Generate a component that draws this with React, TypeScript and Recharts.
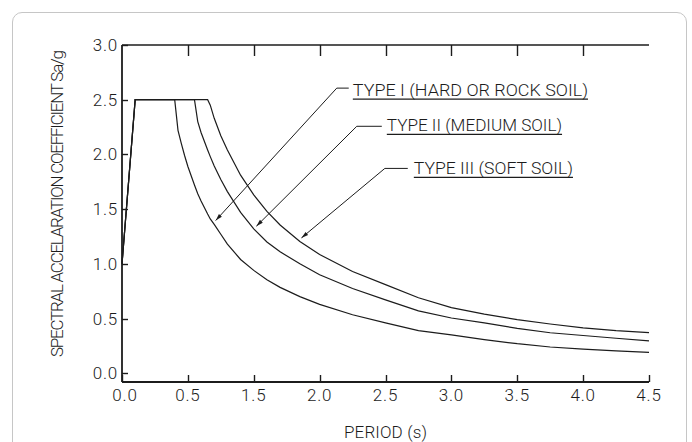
import { LineChart, Line, XAxis, YAxis, ReferenceLine } from "recharts";

// period grid (s) and Sa/g
const periods = [0, 0.1, 0.4, 0.425, 0.45, 0.475, 0.5, 0.55, 0.575, 0.6, 0.65, 0.67, 0.7, 0.75, 0.8, 0.9, 1.0, 1.1, 1.2, 1.35, 1.5, 1.75, 2.0, 2.25, 2.5, 2.75, 3.0, 3.25, 3.5, 3.75, 4.0];
const typeI = [1.0, 2.5, 2.5, 2.22, 2.1, 1.99, 1.89, 1.72, 1.64, 1.575, 1.455, 1.41, 1.36, 1.27, 1.18, 1.04, 0.94, 0.855, 0.785, 0.7, 0.63, 0.535, 0.46, 0.39, 0.35, 0.307, 0.27, 0.24, 0.22, 0.205, 0.19];
const typeII = [1.0, 2.5, 2.5, 2.5, 2.5, 2.5, 2.5, 2.5, 2.3, 2.2, 2.04, 1.98, 1.895, 1.77, 1.66, 1.47, 1.32, 1.2, 1.11, 1.0, 0.9, 0.775, 0.67, 0.57, 0.505, 0.46, 0.41, 0.37, 0.345, 0.32, 0.296];
const typeIII = [1.0, 2.5, 2.5, 2.5, 2.5, 2.5, 2.5, 2.5, 2.5, 2.5, 2.5, 2.45, 2.33, 2.17, 2.04, 1.81, 1.63, 1.48, 1.355, 1.205, 1.085, 0.93, 0.81, 0.69, 0.6, 0.54, 0.49, 0.45, 0.415, 0.39, 0.372];

const xTicks = [0, 0.5, 1.0, 1.5, 2.0, 2.5, 3.0, 3.5, 4.0];
// labels as printed on the drawing (1.0 is skipped there)
const xTickLabels = ["0.0", "0.5", "1.5", "2.0", "2.5", "3.0", "3.5", "4.0", "4.5"];
const yTicks = [0, 0.5, 1.0, 1.5, 2.0, 2.5, 3.0];
const yTickLabels = ["0.0", "0.5", "1.0", "1.5", "2.0", "2.5", "3.0"];

const callouts = [
  { text: "TYPE I (HARD OR ROCK SOIL)", tip: [0.711, 1.396], elbow: [1.63, 2.606], end: 1.721, lineY: 2.505, from: 1.752, to: 3.537 },
  { text: "TYPE II (MEDIUM SOIL)", tip: [1.02, 1.344], elbow: [1.782, 2.257], end: 1.972, lineY: 2.184, from: 2.01, to: 3.34 },
  { text: "TYPE III (SOFT SOIL)", tip: [1.362, 1.237], elbow: [1.995, 1.872], end: 2.169, lineY: 1.79, from: 2.215, to: 3.423 },
];

const data = periods.map((t, i) => ({ t, typeI: typeI[i], typeII: typeII[i], typeIII: typeIII[i] }));

const INK = "#1c1c1c";
const FONT = "Roboto, 'Liberation Sans', sans-serif";
const WEIGHT = 300;
const X_DOMAIN = [0, 4];
const Y_DOMAIN = [-0.08, 3];

const snap = (v: number) => Math.round(v) + 0.5;

const BottomTick = ({ x, y, payload }: any) => {
  const i = xTicks.indexOf(payload.value);
  const sx = snap(x);
  return (
    <g>
      <line x1={sx} x2={sx} y1={y} y2={y - 7} stroke={INK} strokeWidth={1.4} />
      <text x={i === 0 ? x + 3 : x} y={y + 19} textAnchor="middle" fontFamily={FONT} fontWeight={WEIGHT} fontSize={17} letterSpacing={0.8} fill={INK}>
        {xTickLabels[i]}
      </text>
    </g>
  );
};

const LeftTick = ({ x, y, payload }: any) => {
  const i = yTicks.indexOf(payload.value);
  const sy = snap(y);
  return (
    <g>
      <line x1={x} x2={x + 6} y1={sy} y2={sy} stroke={INK} strokeWidth={1.4} />
      <text x={x - 4} y={y + 6} textAnchor="end" fontFamily={FONT} fontWeight={WEIGHT} fontSize={17} letterSpacing={0.8} fill={INK}>
        {yTickLabels[i]}
      </text>
    </g>
  );
};

// top border of the frame with the hanging ticks at the same periods as below
const TopBorder = ({ x1, x2, y1 }: any) => {
  const left = Math.min(x1, x2);
  const span = Math.abs(x2 - x1);
  return (
    <g>
      <line x1={left} x2={left + span} y1={y1} y2={y1} stroke={INK} strokeWidth={1.6} />
      {xTicks.slice(1, -1).map((t) => {
        const x = snap(left + ((t - X_DOMAIN[0]) / (X_DOMAIN[1] - X_DOMAIN[0])) * span);
        return <line key={t} x1={x} x2={x} y1={y1} y2={y1 + 11} stroke={INK} strokeWidth={1.4} />;
      })}
    </g>
  );
};

const Leader = ({ x1, y1, x2, y2 }: any) => {
  const dx = x1 - x2;
  const dy = y1 - y2;
  const len = Math.hypot(dx, dy) || 1;
  const ux = dx / len;
  const uy = dy / len;
  const bx = x1 - ux * 7;
  const by = y1 - uy * 7;
  return (
    <g>
      <line x1={x1} y1={y1} x2={x2} y2={y2} stroke={INK} strokeWidth={1} />
      <polygon points={`${x1},${y1} ${bx - uy * 2},${by + ux * 2} ${bx + uy * 2},${by - ux * 2}`} fill={INK} />
    </g>
  );
};

const makeUnderline = (text: string) => ({ x1, y1, x2, y2 }: any) => (
  <g>
    <line x1={x1} y1={y1} x2={x2} y2={y2} stroke={INK} strokeWidth={1.2} />
    <text x={x1} y={y1 - 3} textLength={x2 - x1} lengthAdjust="spacingAndGlyphs" fontFamily={FONT} fontWeight={WEIGHT} fontSize={17} fill={INK}>
      {text}
    </text>
  </g>
);

const XTitle = ({ viewBox }: any) => (
  <text x={viewBox.x + viewBox.width / 2} y={438} textAnchor="middle" textLength={83} fontFamily={FONT} fontWeight={WEIGHT} fontSize={17} fill={INK}>
    PERIOD (s)
  </text>
);

const YTitle = () => (
  <text
    x={57}
    y={203.5}
    transform="rotate(-90, 57, 203.5)"
    textAnchor="middle"
    dominantBaseline="central"
    textLength={307}
    fontFamily={FONT}
    fontWeight={WEIGHT}
    fontSize={17}
    fill={INK}
  >
    SPECTRAL ACCELARATION COEFFICIENT Sa/g
  </text>
);

export default function App() {
  return (
    <div style={{ position: "absolute", left: 0, top: 0, width: 692, height: 442, overflow: "hidden", background: "#fff" }}>
      <div
        style={{
          position: "absolute",
          left: 12,
          top: 12,
          width: 675,
          height: 470,
          border: "1.5px solid #c6c6c6",
          borderRadius: 10,
          boxSizing: "border-box",
        }}
      />
      <div style={{ position: "absolute", left: 0, top: 0 }}>
        <LineChart width={692} height={442} data={data} margin={{ top: 45, right: 43, left: 72, bottom: 30 }}>
          <XAxis
            dataKey="t"
            type="number"
            domain={X_DOMAIN}
            ticks={xTicks}
            interval={0}
            height={30}
            tickSize={0}
            tickMargin={0}
            tickLine={false}
            tick={<BottomTick />}
            axisLine={{ stroke: INK, strokeWidth: 1.8 }}
            label={XTitle}
          />
          {/* mirrored top axis: only its inward tick marks are shown */}
          <XAxis
            xAxisId="top"
            dataKey="t"
            orientation="top"
            type="number"
            domain={X_DOMAIN}
            ticks={xTicks.slice(1, -1)}
            interval={0}
            height={1}
            mirror
            tickSize={11}
            tick={false}
            tickLine={{ stroke: INK, strokeWidth: 1.4 }}
            axisLine={false}
          />
          <YAxis
            type="number"
            domain={Y_DOMAIN}
            ticks={yTicks}
            interval={0}
            width={50}
            tickSize={0}
            tickMargin={0}
            tickLine={false}
            tick={<LeftTick />}
            axisLine={{ stroke: INK, strokeWidth: 1.8 }}
            label={YTitle}
          />
          <YAxis
            yAxisId="right"
            orientation="right"
            type="number"
            domain={Y_DOMAIN}
            width={0}
            tick={false}
            tickLine={false}
            axisLine={{ stroke: INK, strokeWidth: 1.6 }}
          />
          <ReferenceLine y={Y_DOMAIN[1]} ifOverflow="visible" shape={TopBorder} />
          <Line type="linear" dataKey="typeI" stroke={INK} strokeWidth={1.2} dot={false} isAnimationActive={false} />
          <Line type="linear" dataKey="typeII" stroke={INK} strokeWidth={1.2} dot={false} isAnimationActive={false} />
          <Line type="linear" dataKey="typeIII" stroke={INK} strokeWidth={1.2} dot={false} isAnimationActive={false} />
          {callouts.map((c) => (
            <ReferenceLine
              key={c.text + "-leader"}
              segment={[
                { x: c.tip[0], y: c.tip[1] },
                { x: c.elbow[0], y: c.elbow[1] },
              ]}
              ifOverflow="visible"
              shape={Leader}
            />
          ))}
          {callouts.map((c) => (
            <ReferenceLine
              key={c.text + "-arm"}
              segment={[
                { x: c.elbow[0], y: c.elbow[1] },
                { x: c.end, y: c.elbow[1] },
              ]}
              ifOverflow="visible"
              stroke={INK}
              strokeWidth={1}
            />
          ))}
          {callouts.map((c) => (
            <ReferenceLine
              key={c.text + "-text"}
              segment={[
                { x: c.from, y: c.lineY },
                { x: c.to, y: c.lineY },
              ]}
              ifOverflow="visible"
              shape={makeUnderline(c.text)}
            />
          ))}
        </LineChart>
      </div>
    </div>
  );
}
